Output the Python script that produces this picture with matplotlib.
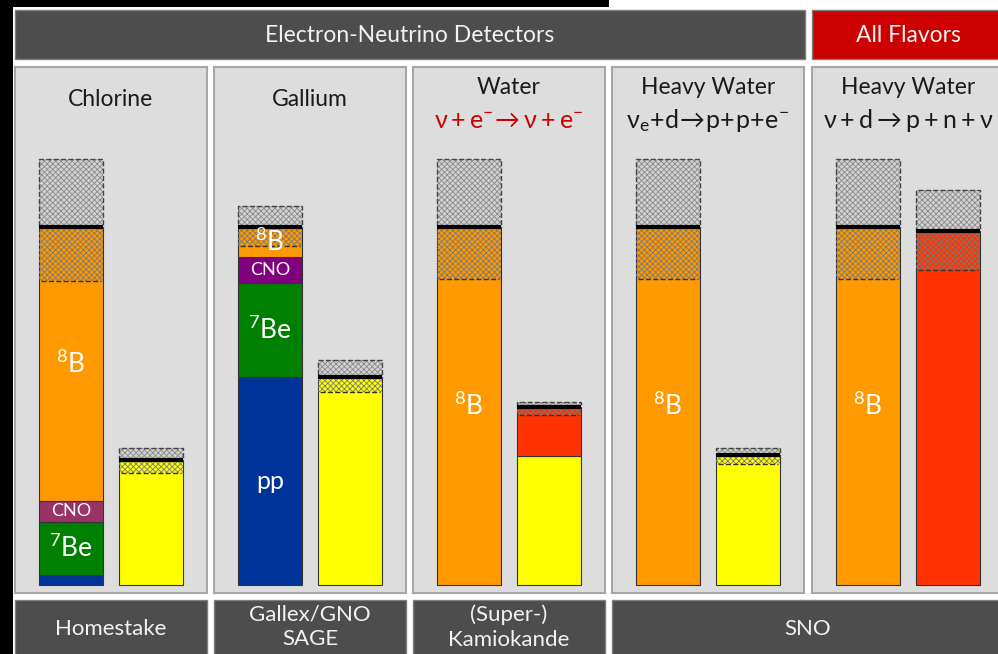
import matplotlib
matplotlib.use('Agg')
import matplotlib.pyplot as plt
from matplotlib.patches import Rectangle

plt.rcParams['font.family'] = ['Lato', 'DejaVu Sans']
plt.rcParams['mathtext.fontset'] = 'custom'
plt.rcParams['mathtext.rm'] = 'Lato'
plt.rcParams['mathtext.it'] = 'Lato'
plt.rcParams['hatch.linewidth'] = 0.6

# fluxes in % of the solar model prediction
sources = ['pp', '7Be', 'CNO', '8B']
chlorine_pred = [2.8, 14.8, 5.9, 76.5]
gallium_pred = [58.1, 26.2, 7.3, 8.4]
water_pred = [0, 0, 0, 100]
heavy_cc_pred = [0, 0, 0, 100]
heavy_nc_pred = [0, 0, 0, 100]
pred_err_lo = [15.0, 5.3, 14.5, 14.5, 14.5]
pred_err_hi = [19.0, 5.9, 19.0, 19.0, 19.0]

# measured rates: electron-neutrino part (yellow) and other flavours (red)
meas_value = [34.9, 58.1, 49.7, 36.3, 98.9]
meas_nue = [34.9, 58.1, 36.1, 36.3, 0]
meas_err_lo = [3.7, 4.2, 2.2, 2.5, 11.0]
meas_err_hi = [3.3, 4.7, 1.3, 1.9, 11.5]

panel_titles = ['Chlorine', 'Gallium', 'Water', 'Heavy Water', 'Heavy Water']
reactions = ['', '', r'$\mathrm{\nu + e^{-}\!\rightarrow \nu + e^{-}}$',
             r'$\mathrm{\nu_{e}\!+\!d\!\rightarrow\!p\!+\!p\!+\!e^{-}}$',
             r'$\mathrm{\nu + d \rightarrow p + n + \nu}$']
experiments = ['Homestake', 'Gallex/GNO\nSAGE', '(Super-)\nKamiokande', 'SNO']

W, H = 998, 654
fig = plt.figure(figsize=(W / 100, H / 100), dpi=100)
fig.patch.set_facecolor('white')

bg = fig.add_axes([0, 0, 1, 1])
bg.set_xlim(0, W)
bg.set_ylim(H, 0)
bg.axis('off')


def box(x0, y0, x1, y1, fc, ec='#7f7f7f', lw=1.0):
    bg.add_patch(Rectangle((x0, y0), x1 - x0, y1 - y0, facecolor=fc,
                           edgecolor=ec, linewidth=lw))


# black frame remains
box(0, 0, 13, H, 'black', ec='none', lw=0)
box(0, 0, 609, 7, 'black', ec='none', lw=0)

# headers
box(15, 10, 805, 59, '#4d4d4d')
bg.text(410, 35, 'Electron-Neutrino Detectors', color='#f2f2f2', fontsize=16.5,
        ha='center', va='center')
box(812, 10, 1005, 59, '#cc0000')
bg.text(908, 36, 'All Flavors', color='#f2f2f2', fontsize=16.5,
        ha='center', va='center')

# experiment labels at bottom
label_boxes = [(15, 207), (214, 406), (413, 605), (612, 1005)]
for (x0, x1), name in zip(label_boxes, experiments):
    box(x0, 600, x1, 660, '#4d4d4d')
    xc = (x0 + x1) / 2 if name != 'SNO' else 808
    yc = 629 if '\n' not in name else 627
    bg.text(xc, yc, name, color='#f2f2f2', fontsize=16, ha='center',
            va='center', linespacing=1.3)

panel_left = [15, 214, 413, 612, 812]
panel_w = 192
top, bottom, zero_px, scale = 67, 593, 585, 3.58

colors = {'pp': '#003399', '7Be': '#008000', 'CNO': '#993366', '8B': '#ff9900'}
preds = [chlorine_pred, gallium_pred, water_pred, heavy_cc_pred, heavy_nc_pred]
yellow, red = '#ffff00', '#ff3300'


def err_band(ax, x, value, lo, hi):
    # hatched lower band inside the bar
    ax.bar(x, lo, bottom=value - lo, width=0.8, color='none', hatch='xxxxxx',
           edgecolor='#7a7a7a', linewidth=0, zorder=3)
    ax.hlines(value - lo, x - 0.38, x + 0.38, colors='#333333', linestyles='--',
              linewidth=1.0, zorder=4)
    # grey upper box
    ax.bar(x, hi, bottom=value, width=0.8, color='#d2d2d2', hatch='xxxxxx',
           edgecolor='#8a8a8a', linewidth=0, zorder=3)
    ax.bar(x, hi, bottom=value, width=0.8, fill=False, edgecolor='#444444',
           linestyle='--', linewidth=1.0, zorder=4)
    ax.hlines(value, x - 0.4, x + 0.4, colors='black', linewidth=3.0, zorder=5)


for i, left in enumerate(panel_left):
    ax = fig.add_axes([left / W, 1 - bottom / H, panel_w / W, (bottom - top) / H])
    ax.set_facecolor('#dddddd')
    for s in ax.spines.values():
        s.set_color('#a6a6a6')
        s.set_linewidth(1.5)
    ax.set_xticks([])
    ax.set_yticks([])
    ax.set_xlim(-56 / 80, -56 / 80 + panel_w / 80)
    ax.set_ylim((zero_px - bottom) / scale, (zero_px - top) / scale)

    # predicted flux, stacked by source
    base = 0
    for src, v in zip(sources, preds[i]):
        if v <= 0:
            continue
        c = colors[src]
        if src == 'CNO' and i == 1:
            c = '#800080'
        ax.bar(0, v, bottom=base, width=0.8, color=c, edgecolor='#333333',
               linewidth=0.8, zorder=2)
        if src == '8B':
            lab, fs = r'$\mathrm{^{8}B}$', 19
        elif src == '7Be':
            lab, fs = r'$\mathrm{^{7}Be}$', 19
        elif src == 'CNO':
            lab, fs = 'CNO', 13
        else:
            lab, fs = 'pp', 18
        if v > 5:
            ax.text(0, base + v / 2, lab, color='white', fontsize=fs,
                    ha='center', va='center', zorder=6)
        base += v
    err_band(ax, 0, base, pred_err_lo[i], pred_err_hi[i])

    # measurement
    if meas_nue[i] > 0:
        ax.bar(1, meas_nue[i], width=0.8, color=yellow, edgecolor='#333333',
               linewidth=0.8, zorder=2)
    rest = meas_value[i] - meas_nue[i]
    if rest > 0:
        ax.bar(1, rest, bottom=meas_nue[i], width=0.8, color=red,
               edgecolor='#333333', linewidth=0.8, zorder=2)
    err_band(ax, 1, meas_value[i], meas_err_lo[i], meas_err_hi[i])

    # titles
    if reactions[i]:
        ax.text(0.5, (bottom - 88) / (bottom - top), panel_titles[i],
                transform=ax.transAxes, ha='center', va='center',
                fontsize=16.5, color='#1a1a1a')
        ax.text(0.5, (bottom - 120) / (bottom - top), reactions[i],
                transform=ax.transAxes, ha='center', va='center',
                fontsize=18, color='#cc0000' if i == 2 else '#1a1a1a')
    else:
        ax.text(0.5, (bottom - 99) / (bottom - top), panel_titles[i],
                transform=ax.transAxes, ha='center', va='center',
                fontsize=16.5, color='#1a1a1a')

fig.savefig('out.png', dpi=100)
